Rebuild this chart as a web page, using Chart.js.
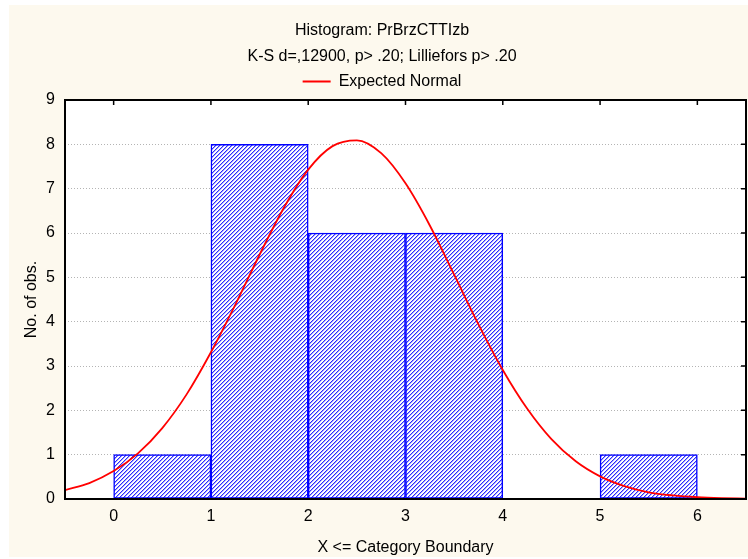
<!DOCTYPE html>
<html>
<head>
<meta charset="utf-8">
<title>Histogram: PrBrzCTTIzb</title>
<script src="https://cdn.jsdelivr.net/npm/chart.js@4.4.0/dist/chart.umd.min.js"></script>
<style>
  html, body { margin: 0; padding: 0; background: #ffffff; }
  #wrap { width: 748px; height: 559px; }
</style>
</head>
<body>
<div id="wrap"><canvas id="chart" width="748" height="559"></canvas></div>
<script>
// Histogram bins (upper boundary of each category) and counts
const binStart = [0, 1, 2, 3, 4, 5];
const binEnd = [1, 2, 3, 4, 5, 6];
const counts = [1, 8, 6, 6, 0, 1];

// Expected normal curve
const curveX = [-0.5, -0.25, 0, 0.25, 0.5, 0.75, 1, 1.25, 1.5, 1.75, 2, 2.25, 2.5, 2.75, 3,
                3.25, 3.5, 3.75, 4, 4.25, 4.5, 4.75, 5, 5.25, 5.5, 5.75, 6, 6.25, 6.5];
const curveY = [0.20, 0.36, 0.63, 1.03, 1.60, 2.36, 3.31, 4.38, 5.51, 6.57, 7.43, 7.96, 8.09, 7.80, 7.12,
                6.17, 5.06, 3.94, 2.91, 2.04, 1.35, 0.85, 0.51, 0.29, 0.15, 0.08, 0.04, 0.02, 0.01];

// Tick labels
const xTicks = [0, 1, 2, 3, 4, 5, 6];
const yTicks = [0, 1, 2, 3, 4, 5, 6, 7, 8, 9];

const titleLines = ['Histogram: PrBrzCTTIzb', 'K-S d=,12900, p> .20; Lilliefors p> .20'];
const fontFamily = '"Liberation Sans", Arial, sans-serif';

const canvas = document.getElementById('chart');
const ctx = canvas.getContext('2d');

// Function to build the blue diagonal hatch used for the bars
function makeHatch() {
    const tile = document.createElement('canvas');
    tile.width = 4;
    tile.height = 4;
    const g = tile.getContext('2d');
    g.fillStyle = '#ffffff';
    g.fillRect(0, 0, 4, 4);
    for (let i = 0; i < 4; i++) {
        for (let j = 0; j < 4; j++) {
            const k = (i + j) % 4;
            if (k === 0) {
                g.fillStyle = '#2a2aff';
                g.fillRect(i, j, 1, 1);
            } else if (k === 1) {
                g.fillStyle = '#a8a8ff';
                g.fillRect(i, j, 1, 1);
            }
        }
    }
    return ctx.createPattern(tile, 'repeat');
}

// Backgrounds, frame and the inside ticks on the top and right edges
const framePlugin = {
    id: 'frame',
    beforeDraw(chart) {
        const c = chart.ctx;
        const a = chart.chartArea;
        c.save();
        c.fillStyle = '#ffffff';
        c.fillRect(0, 0, chart.width, chart.height);
        c.fillStyle = '#fdf9ee';
        c.fillRect(9, 5, chart.width - 9, chart.height - 7);
        c.fillStyle = '#ffffff';
        c.fillRect(a.left, a.top, a.right - a.left, a.bottom - a.top);
        c.restore();
    },
    afterDatasetsDraw(chart) {
        const c = chart.ctx;
        const a = chart.chartArea;
        const xs = chart.scales.x;
        const ys = chart.scales.y;
        c.save();
        c.strokeStyle = '#000000';
        c.lineWidth = 1.5;
        c.beginPath();
        xTicks.forEach(v => {
            const px = xs.getPixelForValue(v);
            c.moveTo(px, a.top);
            c.lineTo(px, a.top + 5);
        });
        yTicks.forEach(v => {
            const py = ys.getPixelForValue(v);
            c.moveTo(a.right, py);
            c.lineTo(a.right - 5, py);
        });
        c.stroke();
        c.lineWidth = 2;
        c.strokeRect(a.left, a.top, a.right - a.left, a.bottom - a.top);
        c.restore();
    }
};

const barData = binStart.map((s, i) => ({ x: (s + binEnd[i]) / 2, y: counts[i] }));
const curveData = curveX.map((x, i) => ({ x: x, y: curveY[i] }));

const chart = new Chart(ctx, {
    type: 'bar',
    data: {
        datasets: [{
            type: 'bar',
            label: 'Count',
            data: barData,
            backgroundColor: makeHatch(),
            borderColor: '#0000ff',
            borderWidth: 1.5,
            borderSkipped: false,
            barPercentage: 1,
            categoryPercentage: 1,
            order: 2
        }, {
            type: 'line',
            label: 'Expected Normal',
            data: curveData,
            borderColor: '#ff0000',
            backgroundColor: '#ff0000',
            borderWidth: 1.8,
            pointRadius: 0,
            cubicInterpolationMode: 'monotone',
            fill: false,
            order: 1
        }]
    },
    options: {
        responsive: false,
        animation: false,
        layout: { padding: { left: 18, right: 2, top: 0, bottom: 0 } },
        font: { family: fontFamily, size: 16 },
        color: '#000000',
        plugins: {
            tooltip: { enabled: false },
            title: {
                display: true,
                text: titleLines,
                color: '#000000',
                font: { family: fontFamily, size: 16, weight: 'normal', lineHeight: 1.625 },
                padding: { top: 17.5, bottom: 0 }
            },
            legend: {
                display: true,
                labels: {
                    filter: item => item.datasetIndex === 1,
                    usePointStyle: true,
                    pointStyle: 'line',
                    pointStyleWidth: 28,
                    padding: 4,
                    color: '#000000',
                    font: { family: fontFamily, size: 16 }
                }
            }
        },
        scales: {
            x: {
                type: 'linear',
                position: 'bottom',
                offset: false,
                min: -0.5,
                max: 6.5,
                afterBuildTicks: s => { s.ticks = xTicks.map(v => ({ value: v })); },
                afterFit: s => { s.height = 60; },
                grid: { display: false, drawTicks: false, offset: false },
                border: { display: false },
                ticks: { padding: 8, color: '#000000', font: { family: fontFamily, size: 16 } },
                title: {
                    display: true,
                    text: 'X <= Category Boundary',
                    color: '#000000',
                    font: { family: fontFamily, size: 16 },
                    padding: { top: 0, bottom: 1.5 }
                }
            },
            xTop: {
                type: 'linear',
                position: 'top',
                offset: false,
                min: -0.5,
                max: 6.5,
                afterFit: s => { s.height = 0.5; },
                grid: { display: false, drawTicks: false },
                border: { display: false },
                ticks: { display: false }
            },
            y: {
                type: 'linear',
                min: 0,
                max: 9,
                afterBuildTicks: s => { s.ticks = yTicks.map(v => ({ value: v })); },
                afterFit: s => { s.width = 47; },
                grid: {
                    drawTicks: false,
                    color: ctx2 => (ctx2.tick && ctx2.tick.value > 0 && ctx2.tick.value < 9) ? '#b4b4b4' : 'rgba(0,0,0,0)',
                    lineWidth: 1
                },
                border: { display: false, dash: [1, 2] },
                ticks: { padding: 10, color: '#000000', font: { family: fontFamily, size: 16 } },
                title: {
                    display: true,
                    text: 'No. of obs.',
                    color: '#000000',
                    font: { family: fontFamily, size: 16 },
                    padding: { top: 3.5, bottom: 0 }
                }
            }
        }
    },
    plugins: [framePlugin]
});
</script>
</body>
</html>
